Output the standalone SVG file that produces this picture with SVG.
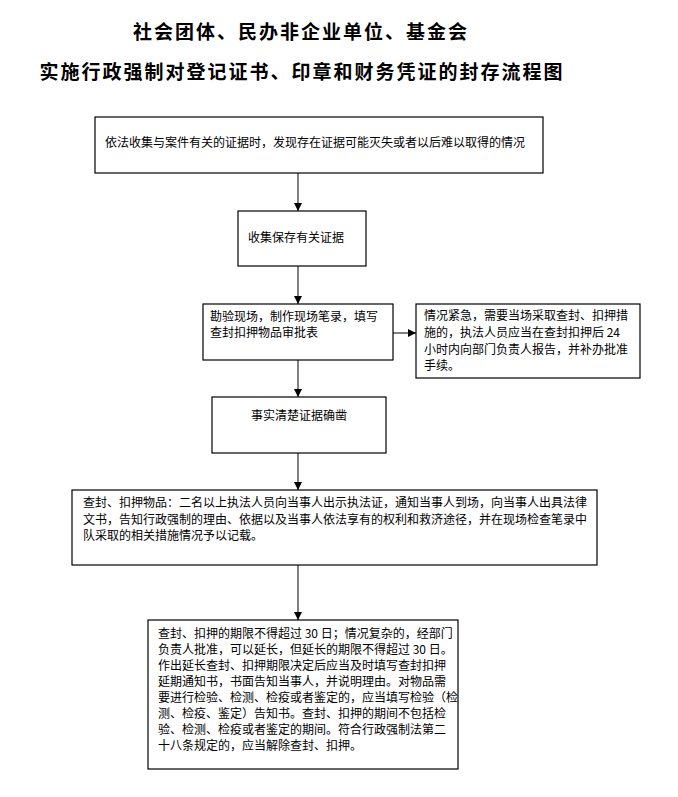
<svg xmlns="http://www.w3.org/2000/svg" width="678" height="797" viewBox="0 0 678 797">
<defs>
<marker id="ah" viewBox="0 0 10 10" refX="10" refY="5" markerWidth="8" markerHeight="8" markerUnits="userSpaceOnUse" orient="auto">
<path d="M0,0 L10,5 L0,10 Z" fill="#000"/>
</marker>
<style>
.box{fill:#fff;stroke:#000;stroke-width:1.2}
.t{font-family:"Noto Sans CJK SC","Liberation Sans",sans-serif;font-size:12px;fill:#000}
.title{font-family:"Noto Sans CJK SC","Liberation Serif",serif;font-size:19px;font-weight:bold;fill:#000;letter-spacing:2px}
.c{stroke:#808080;stroke-width:2;fill:none}
.h{stroke:#000;stroke-width:1;fill:none}
</style>
</defs>
<rect width="678" height="797" fill="#fff"/>
<g id="title">
<text class="title" x="301" y="39" text-anchor="middle">社会团体、民办非企业单位、基金会</text>
<text class="title" x="302" y="79" text-anchor="middle">实施行政强制对登记证书、印章和财务凭证的封存流程图</text>
</g>
<g id="connectors">
<line class="c" x1="298" y1="173" x2="298" y2="211" marker-end="url(#ah)"/>
<line class="c" x1="298" y1="266" x2="298" y2="304" marker-end="url(#ah)"/>
<line class="h" x1="393" y1="333" x2="416" y2="333" marker-end="url(#ah)"/>
<line class="c" x1="298" y1="360" x2="298" y2="397" marker-end="url(#ah)"/>
<line class="c" x1="298" y1="453" x2="298" y2="490" marker-end="url(#ah)"/>
<line class="c" x1="298" y1="565" x2="298" y2="620" marker-end="url(#ah)"/>
</g>
<g id="n1">
<rect class="box" x="95" y="117" width="448" height="56"/>
<text class="t" x="105" y="147">依法收集与案件有关的证据时，发现存在证据可能灭失或者以后难以取得的情况</text>
</g>
<g id="n2">
<rect class="box" x="238" y="211" width="128" height="55"/>
<text class="t" x="248" y="242">收集保存有关证据</text>
</g>
<g id="n3">
<rect class="box" x="203" y="304" width="190" height="56"/>
<text class="t" x="210" y="321">勘验现场，制作现场笔录，填写</text>
<text class="t" x="210" y="337">查封扣押物品审批表</text>
</g>
<g id="n4">
<rect class="box" x="416" y="304" width="224" height="74"/>
<text class="t" x="424" y="320">情况紧急，需要当场采取查封、扣押措</text>
<text class="t" x="424" y="337">施的，执法人员应当在查封扣押后 24</text>
<text class="t" x="424" y="354">小时内向部门负责人报告，并补办批准</text>
<text class="t" x="424" y="370">手续。</text>
</g>
<g id="n5">
<rect class="box" x="212" y="397" width="174" height="56"/>
<text class="t" x="299" y="420" text-anchor="middle">事实清楚证据确凿</text>
</g>
<g id="n6">
<rect class="box" x="72" y="490" width="525" height="75"/>
<text class="t" x="83" y="507">查封、扣押物品：二名以上执法人员向当事人出示执法证，通知当事人到场，向当事人出具法律</text>
<text class="t" x="83" y="524">文书，告知行政强制的理由、依据以及当事人依法享有的权利和救济途径，并在现场检查笔录中</text>
<text class="t" x="83" y="540">队采取的相关措施情况予以记载。</text>
</g>
<g id="n7">
<rect class="box" x="148" y="620" width="310" height="149"/>
<text class="t" x="158" y="638">查封、扣押的期限不得超过 30 日；情况复杂的，经部门</text>
<text class="t" x="158" y="654">负责人批准，可以延长，但延长的期限不得超过 30 日。</text>
<text class="t" x="158" y="670">作出延长查封、扣押期限决定后应当及时填写查封扣押</text>
<text class="t" x="158" y="686">延期通知书，书面告知当事人，并说明理由。对物品需</text>
<text class="t" x="158" y="702">要进行检验、检测、检疫或者鉴定的，应当填写检验（检</text>
<text class="t" x="158" y="718">测、检疫、鉴定）告知书。查封、扣押的期间不包括检</text>
<text class="t" x="158" y="734">验、检测、检疫或者鉴定的期间。符合行政强制法第二</text>
<text class="t" x="158" y="750">十八条规定的，应当解除查封、扣押。</text>
</g>
</svg>
